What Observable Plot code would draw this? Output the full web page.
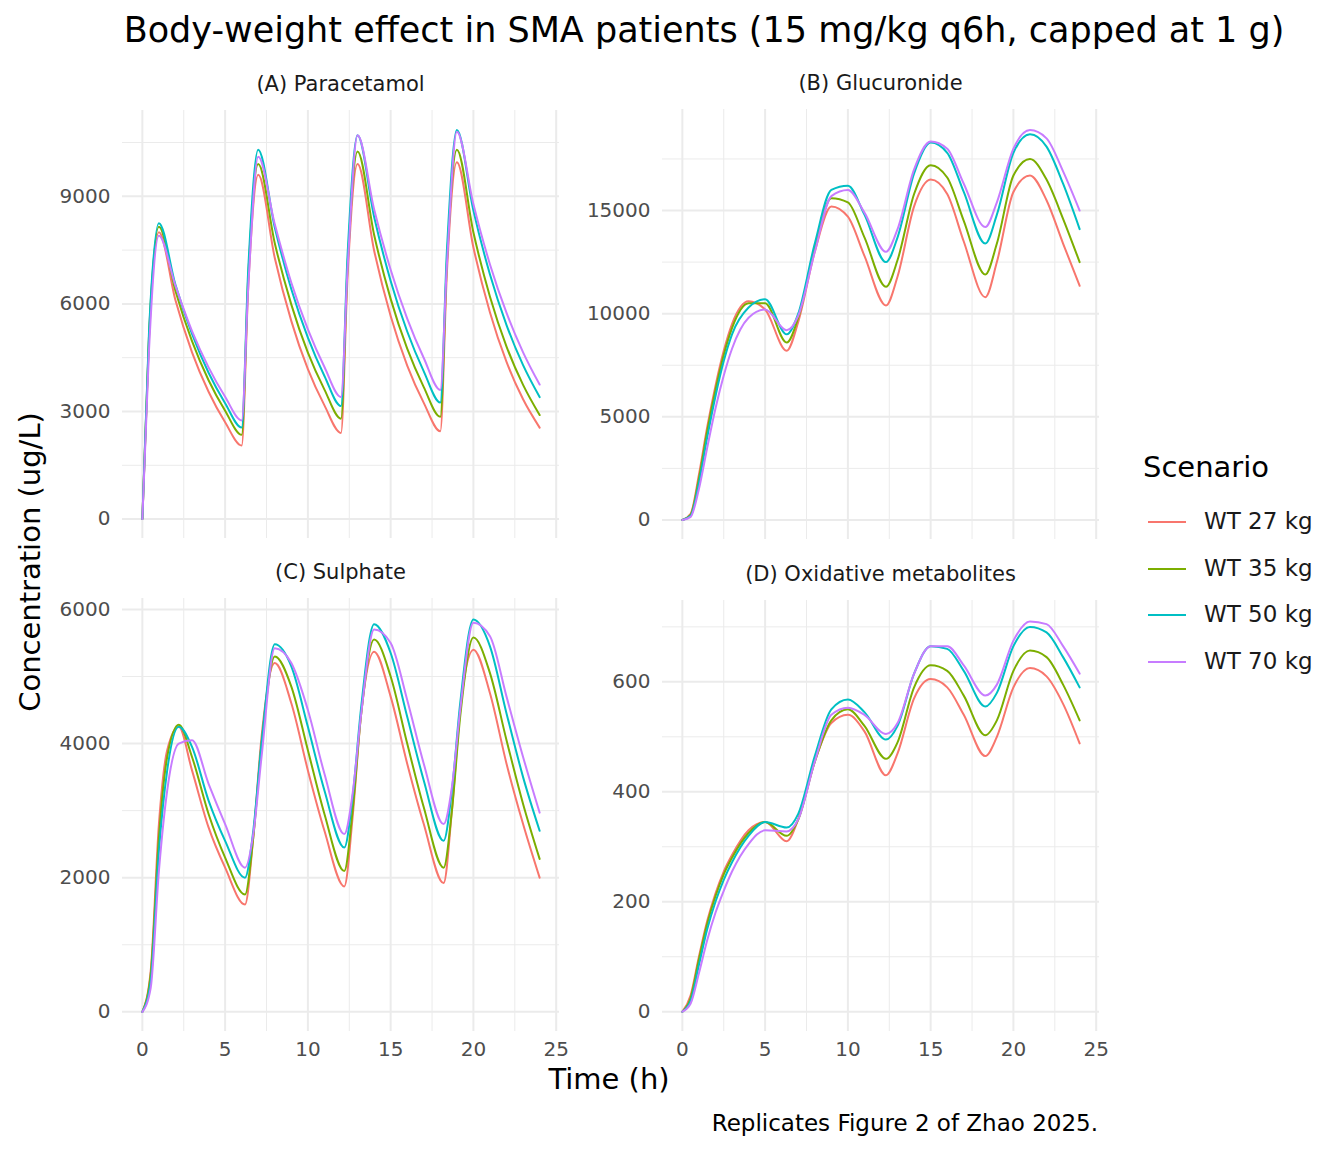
<!DOCTYPE html>
<html><head><meta charset="utf-8">
<script src="https://cdn.jsdelivr.net/npm/d3@7"></script>
<script src="https://cdn.jsdelivr.net/npm/@observablehq/plot@0.6"></script>
<style>
body{margin:0;background:#fff;font-family:"DejaVu Sans",sans-serif;}
#root{position:relative;width:1344px;height:1152px;}
.abs{position:absolute;white-space:nowrap;}
.strip{position:absolute;font-size:21px;color:#1a1a1a;text-align:center;width:437px;}
</style></head><body><div id="root"></div>
<script>
const scenarios = ["WT 27 kg","WT 35 kg","WT 50 kg","WT 70 kg"];
const colors = ["#F8766D","#7CAE00","#00BFC4","#C77CFF"];

// (A) Paracetamol
const timesA = [0,0.4,1,2,3,4,5, 6,6.4,7,8,9,10,11, 12,12.4,13,14,15,16,17, 18,18.4,19,20,21,22,23, 24];
const paraWT27 = [0,5000,8000,6100,4650,3550,2700, 2050,6500,9600,7280,5520,4180,3170, 2400,6800,9900,7490,5660,4280,3240, 2450,6900,9950,7570,5760,4380,3340, 2550];
const paraWT35 = [0,5100,8150,6360,4960,3870,3020, 2350,6800,9900,7690,5980,4640,3610, 2800,7100,10250,7930,6140,4750,3680, 2850,7200,10300,7990,6200,4810,3740, 2900];
const paraWT50 = [0,5200,8250,6530,5160,4080,3230, 2550,7000,10300,8130,6410,5060,3990, 3150,7400,10700,8430,6640,5230,4120, 3250,7500,10850,8600,6820,5410,4290, 3400];
const paraWT70 = [0,4700,7900,6500,5240,4230,3410, 2750,6500,10100,8220,6590,5290,4240, 3400,7000,10700,8640,6950,5590,4490, 3600,7100,10800,8780,7100,5750,4650, 3750];

// (B) Glucuronide and (D) Oxidative metabolites
const timesBD = [0,0.5,1,1.5,2,2.5,3,4,5,6.3,7,8,9,10,11,12.3,13,14,15,16,17,18.3,19,20,21,22,23,24];
const glucWT27 = [0,300,2200,4500,6500,8200,9500,10600,10200,8200,9600,13000,15200,14700,12800,10400,11800,15200,16500,15800,13500,10800,12500,15900,16700,15500,13400,11350];
const glucWT35 = [0,250,2000,4300,6300,8000,9300,10500,10500,8600,9800,13200,15600,15400,13700,11300,12600,15800,17200,16600,14500,11900,13400,16700,17500,16500,14600,12500];
const glucWT50 = [0,200,1800,4000,6000,7700,9000,10300,10700,9000,10000,13400,16000,16200,14800,12500,13700,16800,18300,17800,15900,13400,14800,17800,18700,18100,16300,14100];
const glucWT70 = [0,150,1500,3500,5400,7000,8300,9800,10200,9200,9900,13000,15700,16000,14900,13000,14100,17000,18350,18000,16300,14200,15400,18000,18900,18500,16900,15000];
const oxWT27 = [0,30,100,165,215,255,285,330,345,310,350,455,525,540,510,430,470,570,605,590,540,465,500,590,625,610,560,488];
const oxWT35 = [0,25,95,160,210,250,280,325,345,320,350,455,530,550,520,460,490,590,630,620,575,503,530,620,657,645,595,530];
const oxWT50 = [0,20,85,150,200,240,272,320,345,335,360,465,550,568,545,495,520,615,665,660,620,555,580,665,700,690,645,590];
const oxWT70 = [0,15,70,130,180,220,255,305,330,328,350,455,540,553,540,505,525,615,665,665,630,575,595,675,710,705,665,615];

// (C) Sulphate
const timesC = [0,0.5,1,1.5,2.2,3,4,5, 6.2,6.7,7.2,8,9,10,11, 12.2,12.7,13.2,14,15,16,17, 18.2,18.7,19.2,20,21,22,23,24];
const sulWT27 = [0,600,2800,3900,4250,3600,2750,2150, 1600,2600,4100,5200,4600,3600,2700, 1870,2900,4400,5370,4700,3700,2800, 1920,3000,4500,5400,4750,3700,2800,2000];
const sulWT35 = [0,550,2600,3800,4280,3800,2950,2300, 1750,2600,4000,5300,4850,3900,2950, 2100,3000,4400,5550,5000,4000,3050, 2150,3000,4400,5580,5050,4050,3100,2280];
const sulWT50 = [0,450,2400,3600,4250,3950,3150,2550, 2000,2700,4000,5480,5150,4250,3300, 2450,3200,4500,5780,5350,4400,3450, 2550,3300,4600,5850,5450,4450,3500,2700];
const sulWT70 = [0,350,2100,3300,4000,4050,3400,2800, 2150,2650,3800,5420,5200,4500,3550, 2650,3250,4400,5700,5500,4650,3700, 2800,3350,4500,5800,5600,4700,3800,2970];

const xTicks = [0,5,10,15,20,25];

function toRows(times, series){
  const rows=[];
  series.forEach((vals,i)=>vals.forEach((v,j)=>rows.push({t:times[j],v,s:scenarios[i]})));
  return rows;
}

const ML = 90, MR = 14;
const panels = [
  {title:"(A) Paracetamol", times:timesA, series:[paraWT27,paraWT35,paraWT50,paraWT70], dom:[-542,11392], ticks:[0,3000,6000,9000], left:122, top:110, h:428, bottom:false},
  {title:"(B) Glucuronide", times:timesBD, series:[glucWT27,glucWT35,glucWT50,glucWT70], dom:[-948,19898], ticks:[0,5000,10000,15000], left:662, top:109, h:430, bottom:false},
  {title:"(C) Sulphate", times:timesC, series:[sulWT27,sulWT35,sulWT50,sulWT70], dom:[-293,6163], ticks:[0,2000,4000,6000], left:122, top:598, h:433, bottom:true},
  {title:"(D) Oxidative metabolites", times:timesBD, series:[oxWT27,oxWT35,oxWT50,oxWT70], dom:[-36,748], ticks:[0,200,400,600], left:662, top:600, h:431, bottom:true}
];

const root = document.getElementById("root");
function addText(txt, css){const d=document.createElement("div");d.className="abs";d.textContent=txt;Object.assign(d.style,css);root.appendChild(d);return d;}

for(const p of panels){
  const rows = toRows(p.times,p.series);
  const step = p.ticks[1]-p.ticks[0];
  const yMinor = p.ticks.map(t=>t+step/2).filter(t=>t<p.dom[1]);
  const xMinor = [2.5,7.5,12.5,17.5,22.5];
  const mb = p.bottom?36:0;
  const svg = Plot.plot({
    width:ML+437+MR, height:p.h+mb, marginLeft:ML, marginRight:MR, marginTop:0, marginBottom:mb,
    style:{fontSize:"20px",fontFamily:"DejaVu Sans",color:"#4D4D4D",background:"transparent",overflow:"visible"},
    x:{domain:[-1.2,25.2], ticks:xTicks, tickSize:0, tickPadding:10, label:null, axis:p.bottom?"bottom":null},
    y:{domain:p.dom, ticks:p.ticks, tickSize:0, tickPadding:12, label:null, tickFormat:d=>String(d)},
    color:{domain:scenarios, range:colors},
    marks:[
      Plot.ruleX(xMinor,{stroke:"#EBEBEB",strokeWidth:1}),
      Plot.ruleY(yMinor,{stroke:"#EBEBEB",strokeWidth:1}),
      Plot.ruleX(xTicks,{stroke:"#EBEBEB",strokeWidth:2}),
      Plot.ruleY(p.ticks,{stroke:"#EBEBEB",strokeWidth:2}),
      Plot.line(rows,{x:"t",y:"v",z:"s",stroke:"s",strokeWidth:2,curve:"monotone-x"})
    ]
  });
  svg.style.position="absolute"; svg.style.left=(p.left-ML)+"px"; svg.style.top=p.top+"px";
  root.appendChild(svg);
  const st=document.createElement("div"); st.className="strip"; st.textContent=p.title;
  st.style.left=p.left+"px"; st.style.top=(p.top-38)+"px"; root.appendChild(st);
}

addText("Body-weight effect in SMA patients (15 mg/kg q6h, capped at 1 g)",{left:"0",width:"1408px",textAlign:"center",top:"10px",fontSize:"35px",color:"#000"});
addText("Time (h)",{left:"469px",width:"280px",textAlign:"center",top:"1062px",fontSize:"29px",color:"#000"});
addText("Concentration (ug/L)",{left:"-150px",width:"360px",textAlign:"center",top:"545px",fontSize:"29px",color:"#000",transform:"rotate(-90deg)"});
addText("Replicates Figure 2 of Zhao 2025.",{right:"246px",top:"1110px",fontSize:"23px",color:"#000"});
addText("Scenario",{left:"1143px",top:"450px",fontSize:"29px",color:"#000"});
scenarios.forEach((s,i)=>{
  const y=522+i*46.5;
  const ln=document.createElement("div");ln.className="abs";
  Object.assign(ln.style,{left:"1148px",top:(y-1)+"px",width:"38px",height:"2px",background:colors[i]});
  root.appendChild(ln);
  addText(s,{left:"1204px",top:(y-14)+"px",fontSize:"23px",color:"#1a1a1a"});
});
</script></body></html>
